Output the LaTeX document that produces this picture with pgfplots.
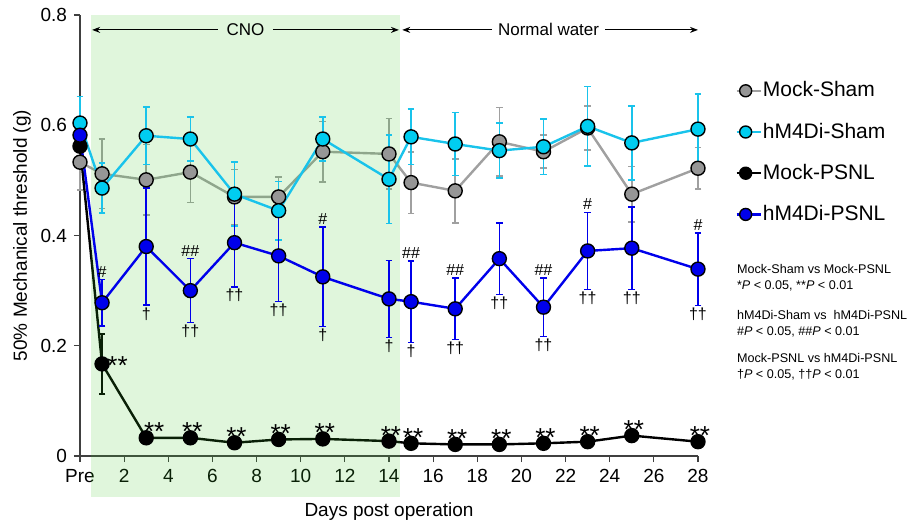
\documentclass[border=0pt]{standalone}
\usepackage{fontspec}
\setmainfont{Liberation Sans}
\usepackage{pgfplots}
\pgfplotsset{compat=1.18}
\usetikzlibrary{arrows.meta}

\definecolor{cMS}{RGB}{150,150,150}
\definecolor{cMSline}{RGB}{160,160,160}
\definecolor{cHS}{RGB}{0,205,240}
\definecolor{cHSline}{RGB}{25,195,235}
\definecolor{cHP}{RGB}{0,0,235}
\definecolor{cnoGreen}{RGB}{60,200,40}

\pgfplotsset{
  ebar/.style={error bars/y dir=both, error bars/y explicit,
    error bars/error bar style={line width=0.8pt},
    error bars/error mark=|,
    error bars/error mark options={line width=0.8pt, mark size=1.7pt}},
}
\tikzset{
  sig/.style={font=\fontsize{8}{9}\selectfont, inner sep=0.5pt},
  star/.style={font=\fontsize{13}{14}\selectfont, inner sep=0pt, anchor=base, yshift=-1.5pt, xshift=1pt},
}

\begin{document}
\begin{tikzpicture}
\begin{axis}[
  name=ax,
  width=309pt, height=220.5pt, scale only axis,
  clip=false,
  xmin=0, xmax=28, ymin=0, ymax=0.8,
  axis x line*=bottom, axis y line*=left,
  axis line style={line width=0.6pt, black!75},
  xtick={0,2,...,28},
  xticklabels={Pre,2,4,6,8,10,12,14,16,18,20,22,24,26,28},
  ytick={0,0.2,0.4,0.6,0.8},
  yticklabel style={/pgf/number format/fixed, /pgf/number format/precision=1},
  /pgf/number format/assume math mode=true,
  tick label style={font=\fontsize{9.5}{11}\selectfont, black},
  tick align=outside, major tick length=3pt,
  tick style={black!75, line width=0.6pt},
  xlabel={Days post operation},
  ylabel={50\% Mechanical threshold (g)},
  label style={font=\fontsize{9.5}{11}\selectfont},
  xlabel style={at={(axis description cs:0.5,-0.127)}, anchor=center},
  ylabel style={at={(axis description cs:-0.094,0.5)}, anchor=center},
  legend style={at={(rel axis cs:1.06,0.852)}, anchor=north west,
    draw=none, fill=none, inner sep=0pt, row sep=10.5pt,
    font=\fontsize{10.5}{12}\selectfont, nodes={inner sep=0.5pt}},
  legend cell align=left,
  legend image code/.code={\draw[mark repeat=2, mark phase=2, mark size=3pt]
    plot coordinates {(0pt,0pt) (4.5pt,0pt) (12pt,0pt)};},
]

% Mock-Sham
\addplot[color=cMSline, line width=1.2pt, mark=*, mark size=3.5pt,
  mark options={fill=cMS, draw=black, line width=0.7pt}, ebar, forget plot]
coordinates {
  (0,0.533) +- (0,0.05)
  (1,0.512) +- (0,0.063)
  (3,0.501) +- (0,0.064)
  (5,0.515) +- (0,0.055)
  (7,0.470) +- (0,0.05)
  (9,0.470) +- (0,0.036)
  (11,0.552) +- (0,0.055)
  (14,0.548) +- (0,0.064)
  (15,0.496) +- (0,0.056)
  (17,0.481) +- (0,0.058)
  (19,0.570) +- (0,0.062)
  (21,0.552) +- (0,0.03)
  (23,0.595) +- (0,0.04)
  (25,0.475) +- (0,0.05)
  (28,0.522) +- (0,0.038)
};

% Mock-PSNL
\addplot[color=black, line width=1.2pt, mark=*, mark size=3.5pt,
  mark options={fill=black, draw=black, line width=0.7pt}, ebar, forget plot]
coordinates {
  (0,0.562) +- (0,0.01)
  (1,0.167) +- (0,0.054)
  (3,0.033) +- (0,0.005)
  (5,0.033) +- (0,0.005)
  (7,0.024) +- (0,0.005)
  (9,0.030) +- (0,0.005)
  (11,0.031) +- (0,0.005)
  (14,0.027) +- (0,0.005)
  (15,0.023) +- (0,0.005)
  (17,0.021) +- (0,0.005)
  (19,0.021) +- (0,0.005)
  (21,0.023) +- (0,0.005)
  (23,0.026) +- (0,0.005)
  (25,0.037) +- (0,0.005)
  (28,0.026) +- (0,0.005)
};

% CNO period shading
\addplot[draw=none, fill=cnoGreen, fill opacity=0.16, forget plot]
coordinates {(0.5,-0.0745) (14.5,-0.0745) (14.5,0.8) (0.5,0.8)} -- cycle;

% hM4Di-Sham
\addplot[color=cHSline, line width=1.2pt, mark=*, mark size=3.5pt,
  mark options={fill=cHS, draw=black, line width=0.7pt}, ebar, forget plot]
coordinates {
  (0,0.604) +- (0,0.048)
  (1,0.486) +- (0,0.045)
  (3,0.581) +- (0,0.052)
  (5,0.575) +- (0,0.04)
  (7,0.475) +- (0,0.058)
  (9,0.445) +- (0,0.053)
  (11,0.575) +- (0,0.04)
  (14,0.502) +- (0,0.08)
  (15,0.579) +- (0,0.05)
  (17,0.566) +- (0,0.057)
  (19,0.554) +- (0,0.05)
  (21,0.561) +- (0,0.05)
  (23,0.598) +- (0,0.072)
  (25,0.568) +- (0,0.067)
  (28,0.593) +- (0,0.064)
};

% hM4Di-PSNL
\addplot[color=cHP, line width=1.2pt, mark=*, mark size=3.5pt,
  mark options={fill=cHP, draw=black, line width=0.7pt}, ebar, forget plot]
coordinates {
  (0,0.582) +- (0,0.02)
  (1,0.278) +- (0,0.042)
  (3,0.380) +- (0,0.106)
  (5,0.300) +- (0,0.058)
  (7,0.387) +- (0,0.08)
  (9,0.363) +- (0,0.083)
  (11,0.325) +- (0,0.09)
  (14,0.285) +- (0,0.07)
  (15,0.280) +- (0,0.074)
  (17,0.267) +- (0,0.056)
  (19,0.358) +- (0,0.065)
  (21,0.270) +- (0,0.053)
  (23,0.372) +- (0,0.07)
  (25,0.377) +- (0,0.075)
  (28,0.339) +- (0,0.066)
};

% legend in the original order
\addlegendimage{color=cMSline, line width=1.2pt, mark=*, mark options={fill=cMS, draw=black, line width=0.7pt}}
\addlegendentry{Mock-Sham}
\addlegendimage{color=cHSline, line width=1.2pt, mark=*, mark options={fill=cHS, draw=black, line width=0.7pt}}
\addlegendentry{hM4Di-Sham}
\addlegendimage{color=black, line width=1.2pt, mark=*, mark options={fill=black, draw=black, line width=0.7pt}}
\addlegendentry{Mock-PSNL}
\addlegendimage{color=cHP, line width=1.2pt, mark=*, mark options={fill=cHP, draw=black, line width=0.7pt}}
\addlegendentry{hM4Di-PSNL}

% period arrows
\draw[-{Stealth[length=4pt,width=3pt]}, line width=0.6pt] (axis cs:6.25,0.773) -- (axis cs:0.55,0.773);
\draw[-{Stealth[length=4pt,width=3pt]}, line width=0.6pt] (axis cs:8.74,0.773) -- (axis cs:14.45,0.773);
\node[font=\fontsize{8.5}{10}\selectfont] at (axis cs:7.5,0.773) {CNO};
\draw[-{Stealth[length=4pt,width=3pt]}, line width=0.6pt] (axis cs:18.67,0.773) -- (axis cs:14.6,0.773);
\draw[-{Stealth[length=4pt,width=3pt]}, line width=0.6pt] (axis cs:23.79,0.773) -- (axis cs:28.0,0.773);
\node[font=\fontsize{8.5}{10}\selectfont] at (axis cs:21.23,0.773) {Normal water};

% Mock-Sham vs Mock-PSNL
\node[star, anchor=base west, xshift=1.5pt, yshift=-4pt] at (axis cs:1,0.167) {**};
\node[star, xshift=3pt] at (axis cs:3,0.033) {**};
\node[star] at (axis cs:5,0.033) {**};
\node[star] at (axis cs:7,0.024) {**};
\node[star] at (axis cs:9,0.030) {**};
\node[star] at (axis cs:11,0.031) {**};
\node[star] at (axis cs:14,0.027) {**};
\node[star] at (axis cs:15,0.023) {**};
\node[star] at (axis cs:17,0.021) {**};
\node[star] at (axis cs:19,0.021) {**};
\node[star] at (axis cs:21,0.023) {**};
\node[star] at (axis cs:23,0.026) {**};
\node[star] at (axis cs:25,0.037) {**};
\node[star] at (axis cs:28,0.026) {**};

% hM4Di-Sham vs hM4Di-PSNL
\node[sig, anchor=south] at (axis cs:1,0.322) {\#};
\node[sig, anchor=south] at (axis cs:5,0.360) {\#\#};
\node[sig, anchor=south] at (axis cs:11,0.417) {\#};
\node[sig, anchor=south] at (axis cs:15,0.356) {\#\#};
\node[sig, anchor=south] at (axis cs:17,0.325) {\#\#};
\node[sig, anchor=south] at (axis cs:21,0.325) {\#\#};
\node[sig, anchor=south] at (axis cs:23,0.444) {\#};
\node[sig, anchor=south] at (axis cs:28,0.407) {\#};

% Mock-PSNL vs hM4Di-PSNL
\node[sig, anchor=north] at (axis cs:3,0.272) {†};
\node[sig, anchor=north] at (axis cs:5,0.240) {††};
\node[sig, anchor=north] at (axis cs:7,0.305) {††};
\node[sig, anchor=north] at (axis cs:9,0.278) {††};
\node[sig, anchor=north] at (axis cs:11,0.233) {†};
\node[sig, anchor=north] at (axis cs:14,0.213) {†};
\node[sig, anchor=north] at (axis cs:15,0.204) {†};
\node[sig, anchor=north] at (axis cs:17,0.209) {††};
\node[sig, anchor=north] at (axis cs:19,0.291) {††};
\node[sig, anchor=north] at (axis cs:21,0.215) {††};
\node[sig, anchor=north] at (axis cs:23,0.300) {††};
\node[sig, anchor=north] at (axis cs:25,0.300) {††};
\node[sig, anchor=north] at (axis cs:28,0.271) {††};

% statistics key
\node[anchor=west, align=left, font=\fontsize{6.3}{8}\selectfont] at (axis cs:29.45,0.323)
  {Mock-Sham vs Mock-PSNL\\*\textit{P} < 0.05, **\textit{P} < 0.01};
\node[anchor=west, align=left, font=\fontsize{6.3}{8}\selectfont] at (axis cs:29.45,0.2395)
  {hM4Di-Sham vs\ \ hM4Di-PSNL\\\#\textit{P} < 0.05, \#\#\textit{P} < 0.01};
\node[anchor=west, align=left, font=\fontsize{6.3}{8}\selectfont] at (axis cs:29.45,0.1615)
  {Mock-PSNL vs hM4Di-PSNL\\†\textit{P} < 0.05, ††\textit{P} < 0.01};
\end{axis}
\pgfresetboundingbox
\path[use as bounding box] (ax.south west) ++(-40pt,-35pt) rectangle ++(456pt,263pt);
\end{tikzpicture}
\end{document}
